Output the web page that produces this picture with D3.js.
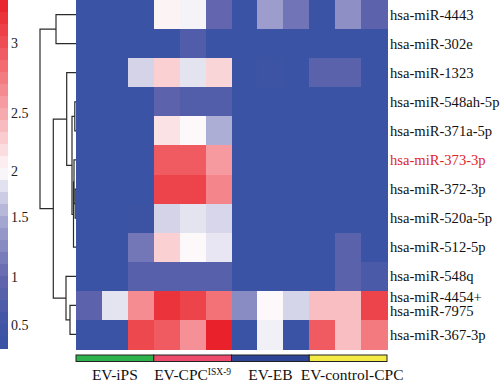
<!DOCTYPE html>
<html>
<head>
<meta charset="utf-8">
<script src="https://cdn.jsdelivr.net/npm/d3@7"></script>
<style>
body { margin: 0; background: #fff; }
svg { display: block; }
text { font-family: "Liberation Serif", "DejaVu Serif", serif; }
</style>
</head>
<body>
<script>
// rows top to bottom (dendrogram order)
var rowNames = ["hsa-miR-4443", "hsa-miR-302e", "hsa-miR-1323", "hsa-miR-548ah-5p",
    "hsa-miR-371a-5p", "hsa-miR-373-3p", "hsa-miR-372-3p", "hsa-miR-520a-5p",
    "hsa-miR-512-5p", "hsa-miR-548q", "hsa-miR-4454+|hsa-miR-7975", "hsa-miR-367-3p"];
var highlightRow = "hsa-miR-373-3p";

var samples = ["iPS-1", "iPS-2", "iPS-3", "CPC-1", "CPC-2", "CPC-3",
    "EB-1", "EB-2", "EB-3", "ctrl-1", "ctrl-2", "ctrl-3"];
var groupNames = ["EV-iPS", "EV-CPC", "EV-EB", "EV-control-CPC"];
var groupOf = [0, 0, 0, 1, 1, 1, 2, 2, 2, 3, 3, 3];

// expression values, one array per row
var values = [
    [0.3, 0.3, 0.3, 2.05, 1.95, 1.0, 0.3, 1.4, 1.1, 0.3, 1.3, 0.9],
    [0.3, 0.3, 0.3, 0.3, 0.75, 0.3, 0.3, 0.3, 0.3, 0.3, 0.3, 0.3],
    [0.3, 0.3, 1.75, 2.26, 1.85, 2.23, 0.3, 0.4, 0.3, 0.88, 0.88, 0.3],
    [0.3, 0.3, 0.3, 0.9, 0.78, 0.78, 0.3, 0.3, 0.3, 0.3, 0.3, 0.3],
    [0.3, 0.3, 0.3, 2.15, 2.02, 1.52, 0.3, 0.3, 0.3, 0.3, 0.3, 0.3],
    [0.3, 0.3, 0.3, 2.93, 2.93, 2.58, 0.3, 0.3, 0.3, 0.3, 0.3, 0.3],
    [0.3, 0.3, 0.3, 3.07, 3.07, 2.7, 0.3, 0.3, 0.3, 0.3, 0.3, 0.3],
    [0.3, 0.3, 0.35, 1.75, 1.85, 1.77, 0.3, 0.3, 0.3, 0.3, 0.3, 0.3],
    [0.3, 0.3, 1.12, 2.26, 2.01, 1.87, 0.3, 0.3, 0.3, 0.3, 0.88, 0.3],
    [0.3, 0.3, 0.82, 0.82, 0.82, 0.82, 0.3, 0.3, 0.3, 0.3, 0.88, 0.65],
    [0.9, 1.85, 2.66, 3.18, 3.07, 2.8, 1.27, 2.01, 1.76, 2.37, 2.37, 3.07],
    [0.3, 0.3, 3.04, 2.93, 2.63, 3.3, 0.3, 1.93, 0.3, 2.93, 2.37, 2.76]
];

var colorTicks = [0.5, 1, 1.5, 2, 2.5, 3];

// dendrogram merges: [childA, childB, height]; new nodes numbered from 12
var merges = [
    [0, 1, 20],
    [10, 11, 6],
    [9, 13, 10],
    [3, 4, 1.2],
    [6, 7, 0.8],
    [5, 16, 2],
    [17, 8, 2.5],
    [15, 18, 4],
    [2, 19, 9.3],
    [20, 14, 22.7],
    [12, 21, 36]
];

var svg = d3.select("body").append("svg")
    .attr("width", 500)
    .attr("height", 385);

var x = d3.scaleBand().domain(samples).range([76, 387]);
var y = d3.scaleBand().domain(d3.range(rowNames.length)).range([0, 349]);

var color = d3.scaleLinear()
    .domain([0.26, 0.5, 1, 1.5, 2, 2.5, 3, 3.3])
    .range(["#3a53a4", "#3f54a5", "#6366ae", "#aaabd4", "#fdfbfc", "#f7a9ad", "#ef4e55", "#e8212b"])
    .clamp(true);

// heatmap cells
var cells = [];
values.forEach(function(row, i) {
    row.forEach(function(v, j) { cells.push({r: i, c: j, v: v}); });
});
svg.append("g")
    .attr("shape-rendering", "crispEdges")
    .selectAll("rect")
    .data(cells)
    .enter().append("rect")
    .attr("x", function(d) { return x(samples[d.c]); })
    .attr("y", function(d) { return y(d.r); })
    .attr("width", x.bandwidth() + 0.5)
    .attr("height", y.bandwidth() + 0.5)
    .attr("fill", function(d) { return color(d.v); });

// row labels
var rowLab = svg.append("g").selectAll("text")
    .data(rowNames)
    .enter().append("text")
    .attr("x", 390)
    .attr("y", function(d, i) { return y(i) + y.bandwidth() / 2; })
    .style("font-size", "14.6px")
    .attr("fill", function(d) { return d == highlightRow ? "#e0262c" : "#111"; });
rowLab.each(function(d) {
    var parts = d.split("|");
    var t = d3.select(this);
    parts.forEach(function(p, k) {
        t.append("tspan")
            .attr("x", 390)
            .attr("dy", k == 0 ? (parts.length == 1 ? "0.35em" : "-0.25em") : "1.0em")
            .text(p);
    });
});

// colour bar
var cbY = d3.scaleLinear()
    .domain([0.5, 1, 1.5, 2, 2.5, 3])
    .range([325, 277, 217, 171, 113, 43]);
var nSteps = 29, cbTop = 0, cbBottom = 348;
var stepH = (cbBottom - cbTop) / nSteps;
svg.append("g")
    .attr("shape-rendering", "crispEdges")
    .selectAll("rect")
    .data(d3.range(nSteps))
    .enter().append("rect")
    .attr("x", 0)
    .attr("y", function(i) { return cbTop + i * stepH; })
    .attr("width", 8)
    .attr("height", stepH + 0.5)
    .attr("fill", function(i) { return color(cbY.invert(cbTop + (i + 0.5) * stepH)); });

var cbAxis = svg.append("g")
    .attr("transform", "translate(8,0)")
    .call(d3.axisRight(cbY).tickValues(colorTicks).tickSize(0).tickPadding(3).tickFormat(d3.format("")));
cbAxis.select(".domain").remove();
cbAxis.selectAll("text")
    .style("font-family", "'Liberation Serif', serif")
    .style("font-size", "14px")
    .attr("fill", "#222");

// dendrogram
var xD = d3.scaleLinear().domain([0, 36]).range([76, 40]);
var nodes = rowNames.map(function(d, i) {
    return {x: 76, y: y(i) + y.bandwidth() / 2};
});
var dend = svg.append("g")
    .attr("fill", "none")
    .attr("stroke", "#2b2b2b")
    .attr("stroke-width", 1.2);
merges.forEach(function(m) {
    var a = nodes[m[0]], b = nodes[m[1]];
    var n = {x: xD(m[2]), y: (a.y + b.y) / 2};
    nodes.push(n);
    dend.append("path")
        .attr("d", "M" + a.x + "," + a.y + "H" + n.x + "V" + b.y + "H" + b.x);
});

// group bars
var groupColor = d3.scaleOrdinal().domain(groupNames)
    .range(["#2db34c", "#ee4a6b", "#2e4596", "#f4ea44"]);
var groups = groupNames.map(function(g, k) {
    var cols = samples.filter(function(s, j) { return groupOf[j] == k; });
    return {name: g, x0: x(cols[0]), x1: x(cols[cols.length - 1]) + x.bandwidth()};
});
svg.append("g").selectAll("rect")
    .data(groups)
    .enter().append("rect")
    .attr("x", function(d) { return d.x0; })
    .attr("y", 355)
    .attr("width", function(d) { return d.x1 - d.x0; })
    .attr("height", 6.5)
    .attr("fill", function(d) { return groupColor(d.name); })
    .attr("stroke", "#222")
    .attr("stroke-width", 1);

var gLab = svg.append("g").selectAll("text")
    .data(groups)
    .enter().append("text")
    .attr("x", function(d) { return (d.x0 + d.x1) / 2 + (d.name == "EV-control-CPC" ? 4 : 0); })
    .attr("y", 380)
    .attr("text-anchor", "middle")
    .style("font-size", "15.5px")
    .attr("fill", "#111");
gLab.append("tspan").text(function(d) { return d.name; });
gLab.filter(function(d) { return d.name == "EV-CPC"; })
    .append("tspan")
    .attr("dy", -5)
    .style("font-size", "9.5px")
    .text("ISX-9");
</script>
</body>
</html>
